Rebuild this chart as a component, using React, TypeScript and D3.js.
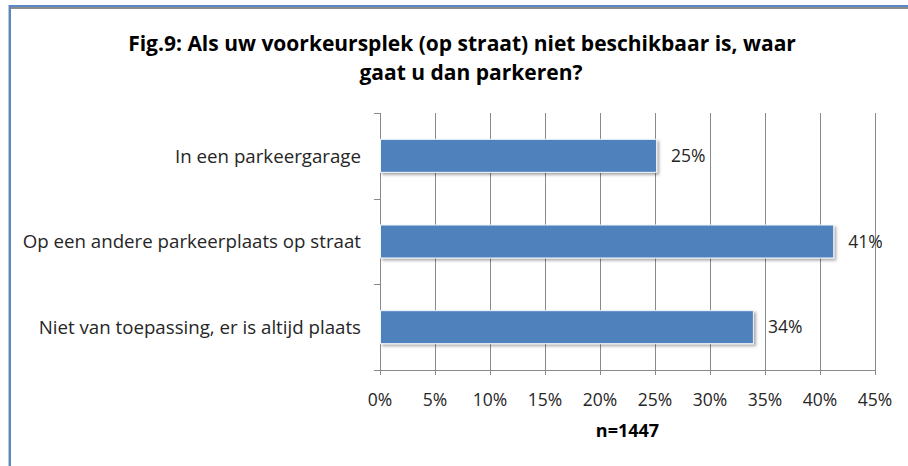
import React, { useEffect, useRef } from 'react';
import * as d3 from 'd3';

const categories = [
    'In een parkeergarage',
    'Op een andere parkeerplaats op straat',
    'Niet van toepassing, er is altijd plaats',
];
const values = [25.1, 41.2, 33.9];
const valueLabels = ['25%', '41%', '34%'];
const xTicks = [0, 5, 10, 15, 20, 25, 30, 35, 40, 45];
const titleLines = ['Fig.9: Als uw voorkeursplek (op straat) niet beschikbaar is, waar', 'gaat u dan parkeren?'];
const xAxisTitle = 'n=1447';

export default function App() {
    const ref = useRef<SVGSVGElement>(null);

    useEffect(() => {
        drawChart();
        // eslint-disable-next-line
    }, []);

    function drawChart() {
        const width = 908;
        const height = 466;
        const margin = { top: 113, right: 33, bottom: 96, left: 380 };
        const font = '"Open Sans", Lato, sans-serif';

        const svg = d3.select(ref.current);
        svg.selectAll('*').remove();

        // frame
        svg.append('rect').attr('x', 0).attr('y', 0).attr('width', width).attr('height', height).attr('fill', '#fff');
        svg.append('rect').attr('x', 11).attr('y', 7).attr('width', width - 11).attr('height', 2).attr('fill', '#8c8c8c');
        svg.append('rect').attr('x', 9).attr('y', 5).attr('width', width - 9).attr('height', 2).attr('fill', '#5a88c4');
        svg.append('rect').attr('x', 8).attr('y', 5).attr('width', 1).attr('height', height).attr('fill', '#b8c6d8');
        svg.append('rect').attr('x', 9).attr('y', 5).attr('width', 2).attr('height', height).attr('fill', '#5a88c4');

        // shadow filter for bars
        const defs = svg.append('defs');
        const f = defs.append('filter').attr('id', 'barShadow').attr('x', '-5%').attr('y', '-30%').attr('width', '110%').attr('height', '170%');
        f.append('feDropShadow')
            .attr('dx', 2)
            .attr('dy', 2)
            .attr('stdDeviation', 1.5)
            .attr('flood-color', '#000')
            .attr('flood-opacity', 0.35);

        // title (second line sits a little right of centre, as in the original)
        svg.append('g')
            .selectAll('text')
            .data(titleLines)
            .enter()
            .append('text')
            .attr('x', (d, i) => 462 + i * 9)
            .attr('y', (d, i) => 51 + i * 29)
            .attr('text-anchor', 'middle')
            .attr('font-family', font)
            .attr('font-weight', 'bold')
            .attr('font-size', 21)
            .attr('fill', '#000')
            .text((d) => d);

        const innerW = width - margin.left - margin.right;
        const innerH = height - margin.top - margin.bottom;

        const x = d3.scaleLinear().domain([0, 45]).range([0, innerW]);
        const y = d3.scaleBand().domain(categories).range([0, innerH]).paddingInner(0.615).paddingOuter(0.3075);

        const g = svg.append('g').attr('transform', `translate(${margin.left},${margin.top})`);

        // gridlines
        g.append('g')
            .selectAll('line')
            .data(xTicks.slice(1))
            .enter()
            .append('line')
            .attr('x1', (d) => x(d) + 0.5)
            .attr('x2', (d) => x(d) + 0.5)
            .attr('y1', 0)
            .attr('y2', innerH + 5)
            .attr('stroke', '#8a8a8a')
            .attr('stroke-width', 1);

        // y axis line and ticks
        const bounds = [0, 1, 2, 3].map((i) => (innerH / 3) * i);
        g.append('line').attr('x1', 0.5).attr('x2', 0.5).attr('y1', 0).attr('y2', innerH + 5).attr('stroke', '#8a8a8a');
        g.append('g')
            .selectAll('line')
            .data(bounds)
            .enter()
            .append('line')
            .attr('x1', -6)
            .attr('x2', 0)
            .attr('y1', (d) => Math.round(d) + 0.5)
            .attr('y2', (d) => Math.round(d) + 0.5)
            .attr('stroke', '#8a8a8a');
        // x axis line
        g.append('line')
            .attr('x1', -6)
            .attr('x2', innerW)
            .attr('y1', innerH + 0.5)
            .attr('y2', innerH + 0.5)
            .attr('stroke', '#8a8a8a');

        // bars
        g.append('g')
            .selectAll('rect')
            .data(categories)
            .enter()
            .append('rect')
            .attr('x', 0.5)
            .attr('y', (d) => y(d)!)
            .attr('width', (d, i) => x(values[i]))
            .attr('height', y.bandwidth())
            .attr('fill', '#4f81bd')
            .attr('stroke', '#f2f6fb')
            .attr('stroke-width', 1)
            .attr('filter', 'url(#barShadow)');

        // value labels
        g.append('g')
            .selectAll('text')
            .data(categories)
            .enter()
            .append('text')
            .attr('x', (d, i) => x(values[i]) + 15)
            .attr('y', (d) => y(d)! + y.bandwidth() / 2)
            .attr('dy', '0.36em')
            .attr('font-family', font)
            .attr('font-size', 17.5)
            .attr('fill', '#262626')
            .text((d, i) => valueLabels[i]);

        // category labels
        g.append('g')
            .selectAll('text')
            .data(categories)
            .enter()
            .append('text')
            .attr('x', -19)
            .attr('y', (d) => y(d)! + y.bandwidth() / 2)
            .attr('dy', '0.36em')
            .attr('text-anchor', 'end')
            .attr('font-family', font)
            .attr('font-size', 18.7)
            .attr('fill', '#262626')
            .text((d) => d);

        // x tick labels
        g.append('g')
            .selectAll('text')
            .data(xTicks)
            .enter()
            .append('text')
            .attr('x', (d) => x(d))
            .attr('y', innerH + 36)
            .attr('text-anchor', 'middle')
            .attr('font-family', font)
            .attr('font-size', 17.5)
            .attr('fill', '#262626')
            .text((d) => `${d}%`);

        // axis title
        g.append('text')
            .attr('x', innerW / 2)
            .attr('y', innerH + 67)
            .attr('text-anchor', 'middle')
            .attr('font-family', font)
            .attr('font-weight', 'bold')
            .attr('font-size', 18)
            .attr('fill', '#000')
            .text(xAxisTitle);
    }

    return (
        <svg
            ref={ref}
            width={908}
            height={466}
            style={{ position: 'absolute', left: 0, top: 0, display: 'block' }}
        />
    );
}
